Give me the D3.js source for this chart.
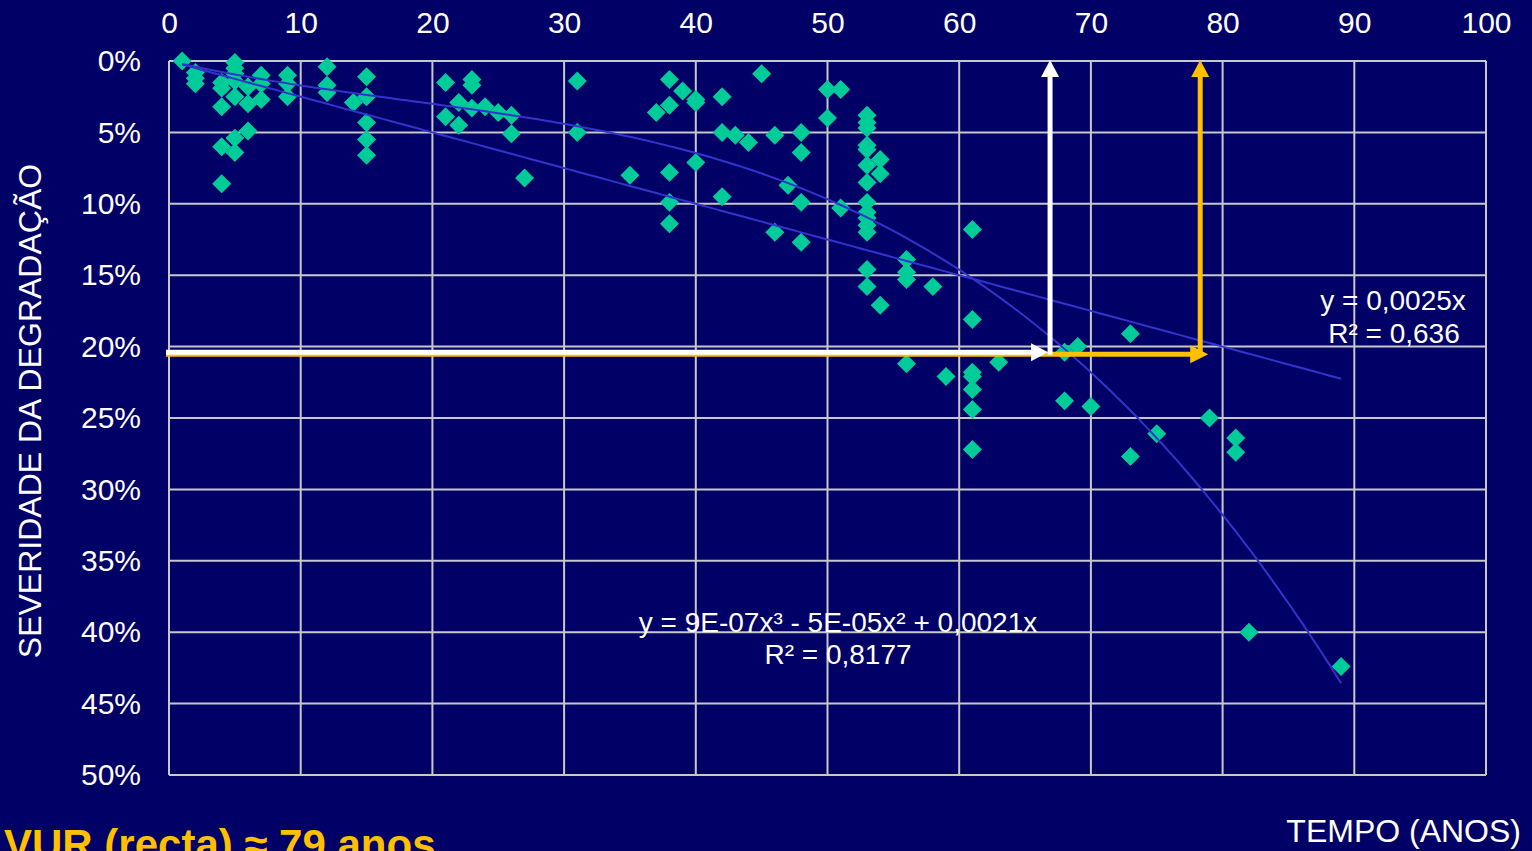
<!DOCTYPE html>
<html>
<head>
<meta charset="utf-8">
<script src="https://cdn.jsdelivr.net/npm/d3@7"></script>
<style>
  html, body { margin: 0; padding: 0; background: #000066; overflow: hidden; }
  svg { display: block; }
  text { font-family: Arial, "Liberation Sans", sans-serif; }
</style>
</head>
<body>
<svg id="chart" width="1532" height="851"></svg>
<script>
// ---- data (age in years, degradation severity as fraction) ----
const ages = [
  1, 2, 2, 2,
  4, 4, 4, 4, 4,
  5, 5, 5, 5, 5, 5, 5,
  6, 6, 6,
  7, 7, 7,
  9, 9, 9,
  12, 12, 12,
  14,
  15, 15, 15, 15, 15,
  21, 21, 22, 22, 23, 23, 23, 24, 25, 26, 26, 27,
  31, 31, 35, 37, 38, 38, 38, 38, 38, 39, 40, 40, 40,
  42, 42, 42, 43, 44, 45, 46, 46, 47, 48, 48, 48, 48,
  50, 50, 51, 51,
  53, 53, 53, 53, 53, 53, 53, 53, 53, 53, 53, 53, 53, 53,
  54, 54, 54,
  56, 56, 56, 56, 58, 59,
  61, 61, 61, 61, 61, 61, 61, 63,
  68, 68, 69, 70, 73, 73, 75, 79, 81, 81, 82, 89
];
const severity = [
  0.000, 0.008, 0.012, 0.016,
  0.015, 0.019, 0.032, 0.060, 0.086,
  0.001, 0.005, 0.009, 0.014, 0.025, 0.054, 0.064,
  0.018, 0.030, 0.049,
  0.010, 0.016, 0.027,
  0.010, 0.016, 0.025,
  0.004, 0.017, 0.022,
  0.029,
  0.011, 0.025, 0.043, 0.055, 0.066,
  0.015, 0.039, 0.029, 0.045, 0.013, 0.017, 0.033, 0.032, 0.036, 0.038, 0.051, 0.082,
  0.014, 0.050, 0.080, 0.036, 0.013, 0.031, 0.078, 0.099, 0.114, 0.021, 0.027, 0.029, 0.071,
  0.025, 0.050, 0.095, 0.052, 0.057, 0.009, 0.052, 0.120, 0.087, 0.050, 0.064, 0.099, 0.127,
  0.020, 0.040, 0.020, 0.103,
  0.038, 0.043, 0.047, 0.059, 0.062, 0.073, 0.085, 0.099, 0.106, 0.110, 0.115, 0.120, 0.146, 0.158,
  0.069, 0.079, 0.171,
  0.139, 0.148, 0.153, 0.212, 0.158, 0.221,
  0.118, 0.181, 0.218, 0.230, 0.244, 0.272, 0.221, 0.211,
  0.204, 0.238, 0.200, 0.242, 0.191, 0.277, 0.261, 0.250, 0.264, 0.274, 0.400, 0.424
];

const xTicks = [0, 10, 20, 30, 40, 50, 60, 70, 80, 90, 100];
const yTicks = [0, 0.05, 0.10, 0.15, 0.20, 0.25, 0.30, 0.35, 0.40, 0.45, 0.50];

// trendlines (through origin) as shown in the chart
const linearSlope = 0.0025;
const polyCoefs = [8.9e-7, -4.78e-5, 0.0021];   // x^3, x^2, x
const trendRange = [1, 89];
const linearLabel = ["y = 0,0025x", "R² = 0,636"];
const polyLabel = ["y = 9E-07x³ - 5E-05x² + 0,0021x", "R² = 0,8177"];

// reading of service life from 20% threshold
const thresholdLevel = 0.204;
const vurPoly = 66.9;
const vurLinear = 78.3;

const xTitle = "TEMPO (ANOS)";
const yTitle = "SEVERIDADE DA DEGRADAÇÃO";
const footer = "VUR (recta) ≈ 79 anos";

// ---- layout ----
const svg = d3.select("#chart");
const W = 1532, H = 851;
const m = { left: 169, right: 1486, top: 61, bottom: 775 };

svg.append("rect").attr("width", W).attr("height", H).attr("fill", "#000066");

const x = d3.scaleLinear().domain([0, 100]).range([m.left, m.right]);
const y = d3.scaleLinear().domain([0, 0.5]).range([m.top, m.bottom]);

const gridColor = "#c8c8c8";

// grid
svg.append("g").selectAll("line").data(xTicks).join("line")
  .attr("x1", d => x(d)).attr("x2", d => x(d))
  .attr("y1", m.top).attr("y2", m.bottom)
  .attr("stroke", gridColor).attr("stroke-width", 2);
svg.append("g").selectAll("line").data(yTicks).join("line")
  .attr("x1", m.left).attr("x2", m.right)
  .attr("y1", d => y(d)).attr("y2", d => y(d))
  .attr("stroke", gridColor).attr("stroke-width", 2);

// axes (labels only)
const xAxis = svg.append("g").attr("transform", `translate(0,${m.top - 39})`)
  .call(d3.axisTop(x).tickValues(xTicks).tickSize(0).tickPadding(0).tickFormat(d3.format("d")));
xAxis.select(".domain").remove();
xAxis.selectAll("text").attr("fill", "#ffffff").attr("font-size", 30)
  .attr("font-family", "Arial, 'Liberation Sans', sans-serif").attr("dy", "0.35em").attr("y", 0);

const yAxis = svg.append("g").attr("transform", `translate(${m.left - 28},0)`)
  .call(d3.axisLeft(y).tickValues(yTicks).tickSize(0).tickPadding(0).tickFormat(d3.format(".0%")));
yAxis.select(".domain").remove();
yAxis.selectAll("text").attr("fill", "#ffffff").attr("font-size", 30)
  .attr("font-family", "Arial, 'Liberation Sans', sans-serif").attr("x", 0);

// axis titles
svg.append("text").attr("transform", `translate(41,411) rotate(-90)`)
  .attr("text-anchor", "middle").attr("fill", "#ffffff").attr("font-size", 32)
  .text(yTitle);
svg.append("text").attr("x", 1521).attr("y", 842).attr("text-anchor", "end")
  .attr("fill", "#ffffff").attr("font-size", 32).text(xTitle);

// points
const pts = ages.map((a, i) => ({ a, s: severity[i] }));
svg.append("g").selectAll("path").data(pts).join("path")
  .attr("d", d3.symbol(d3.symbolSquare, 180))
  .attr("transform", d => `translate(${x(d.a)},${y(d.s)}) rotate(45)`)
  .attr("fill", "#00cc99");

// trendlines
const xs = d3.range(trendRange[0], trendRange[1] + 0.001, 0.5);
const line = d3.line().x(d => x(d[0])).y(d => y(d[1]));
svg.append("path").datum(xs.map(t => [t, linearSlope * t]))
  .attr("d", line).attr("fill", "none").attr("stroke", "#3333cc").attr("stroke-width", 2);
svg.append("path").datum(xs.map(t => [t, polyCoefs[0] * t * t * t + polyCoefs[1] * t * t + polyCoefs[2] * t]))
  .attr("d", line).attr("fill", "none").attr("stroke", "#3333cc").attr("stroke-width", 2);

// trend labels
const lin = svg.append("text").attr("fill", "#ffffff").attr("font-size", 28).attr("text-anchor", "middle");
lin.append("tspan").attr("x", 1393).attr("y", 310).text(linearLabel[0]);
lin.append("tspan").attr("x", 1394).attr("y", 343).text(linearLabel[1]);
const pol = svg.append("text").attr("fill", "#ffffff").attr("font-size", 28).attr("text-anchor", "middle");
pol.append("tspan").attr("x", 838).attr("y", 632).text(polyLabel[0]);
pol.append("tspan").attr("x", 838).attr("y", 664).text(polyLabel[1]);

// arrows
const orange = "#ffc000";
const ay = y(thresholdLevel);
const xp = x(vurPoly), xl = x(vurLinear);
// orange horizontal (under white)
svg.append("line").attr("x1", 166).attr("x2", xl - 4).attr("y1", ay + 2).attr("y2", ay + 2)
  .attr("stroke", orange).attr("stroke-width", 5);
svg.append("path").attr("d", `M${xl - 10},${ay + 2 - 9} L${xl + 8},${ay + 2} L${xl - 10},${ay + 2 + 9} Z`).attr("fill", orange);
// orange vertical
svg.append("line").attr("x1", xl).attr("x2", xl).attr("y1", ay + 4.5).attr("y2", y(0) + 14)
  .attr("stroke", orange).attr("stroke-width", 5);
svg.append("path").attr("d", `M${xl - 9},${y(0) + 16} L${xl},${y(0) - 1} L${xl + 9},${y(0) + 16} Z`).attr("fill", orange);
// white horizontal
svg.append("line").attr("x1", 166).attr("x2", xp - 14).attr("y1", ay).attr("y2", ay)
  .attr("stroke", "#ffffff").attr("stroke-width", 5);
svg.append("path").attr("d", `M${xp - 19},${ay - 9} L${xp - 2},${ay} L${xp - 19},${ay + 9} Z`).attr("fill", "#ffffff");
// white vertical
svg.append("line").attr("x1", xp).attr("x2", xp).attr("y1", ay + 2.5).attr("y2", y(0) + 14)
  .attr("stroke", "#ffffff").attr("stroke-width", 5);
svg.append("path").attr("d", `M${xp - 9},${y(0) + 16} L${xp},${y(0) - 1} L${xp + 9},${y(0) + 16} Z`).attr("fill", "#ffffff");

// footer
svg.append("text").attr("x", 4).attr("y", 859).attr("fill", orange)
  .attr("font-size", 42).attr("font-weight", "bold").text(footer);
</script>
</body>
</html>
